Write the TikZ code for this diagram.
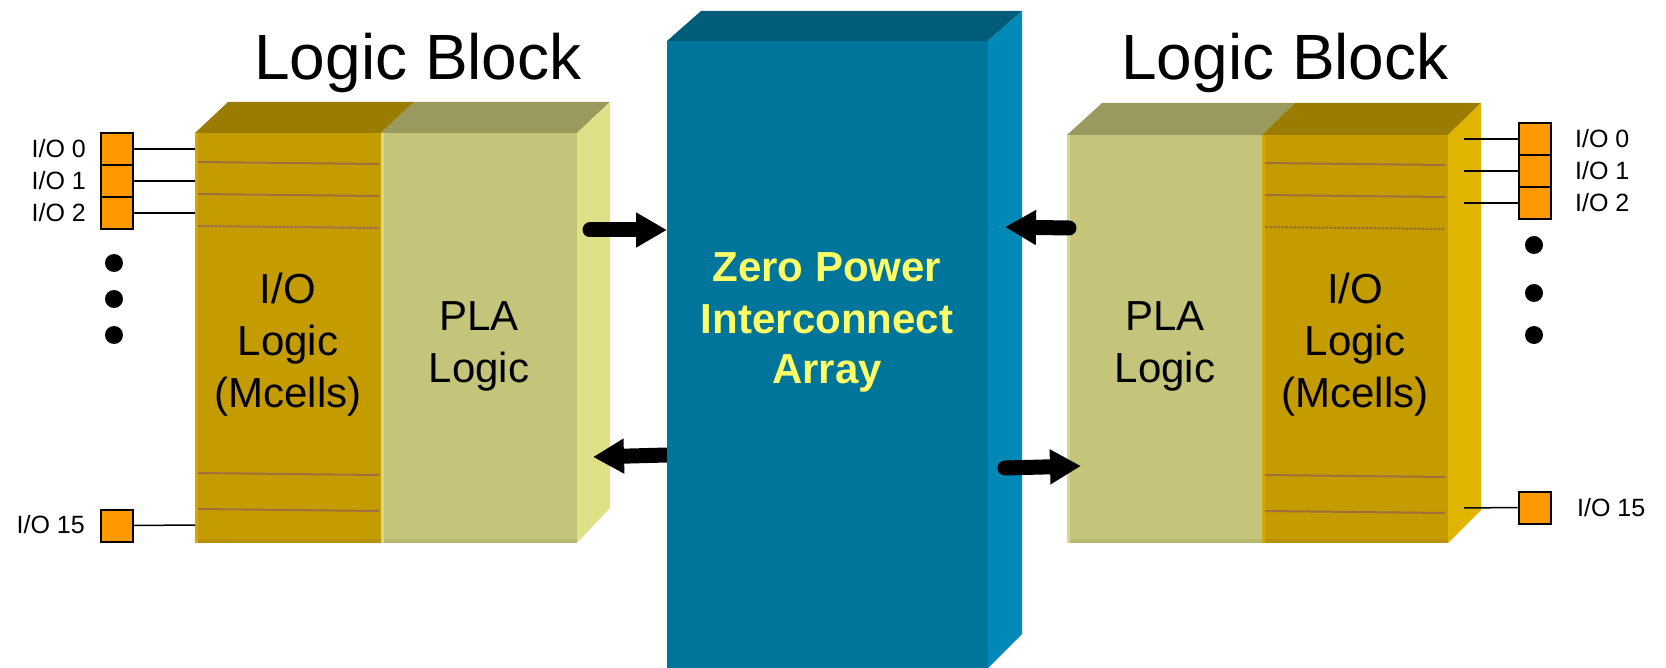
\documentclass[tikz,border=0pt]{standalone}
\usepackage{fontspec}
\setmainfont{Liberation Sans}
\usetikzlibrary{arrows.meta}
\definecolor{ioFront}{HTML}{C49C00}
\definecolor{ioTop}{HTML}{9A7C00}
\definecolor{ioBot}{HTML}{B89200}
\definecolor{ioEdge}{HTML}{D2A800}
\definecolor{plaFront}{HTML}{C4C47A}
\definecolor{plaTop}{HTML}{9A9A5E}
\definecolor{plaBot}{HTML}{B8B872}
\definecolor{plaEdge}{HTML}{D6D68C}
\definecolor{sideL}{HTML}{E0E088}
\definecolor{sideR}{HTML}{E0B400}
\definecolor{rowLine}{HTML}{A0703A}
\definecolor{tealFront}{HTML}{00759B}
\definecolor{tealTop}{HTML}{005C78}
\definecolor{tealSide}{HTML}{0088B6}
\definecolor{ioOrange}{HTML}{FF9900}
\definecolor{zpYellow}{HTML}{FFFF66}
\begin{document}
\begin{tikzpicture}[x=1pt,y=-1pt,
  iosq/.style={draw=black, line width=2pt, fill=ioOrange, minimum width=32pt, minimum height=32pt, inner sep=0pt},
  iolabel/.style={font=\fontsize{25}{30}\selectfont, inner sep=0pt},
  wire/.style={line width=1.5pt, black},
  dotnode/.style={circle, fill=black, minimum size=18pt, inner sep=0pt},
  rowsep/.style={line width=2pt, rowLine},
  title/.style={font=\fontsize{64}{70}\selectfont, inner sep=0pt, anchor=base},
  blocktext/.style={font=\fontsize{42}{52}\selectfont, align=center, inner sep=0pt, anchor=base},
  zptext/.style={font=\fontsize{42}{51}\selectfont\bfseries, text=zpYellow, align=center, inner sep=0pt, anchor=base},
  bigarrow/.style={line width=15pt, line cap=round, -{Triangle[length=31pt,width=33pt]}}]
\useasboundingbox (0,0) rectangle (1666,668);

% ---------- left logic block ----------
\fill[ioFront] (195,133) rectangle (381,543);
\fill[plaFront] (381,133) rectangle (577,543);
\fill[ioTop] (195,133) -- (228,102) -- (414,102) -- (381,133) -- cycle;
\fill[plaTop] (381,133) -- (414,102) -- (610,102) -- (577,133) -- cycle;
\fill[sideL] (577,133) -- (610,102) -- (610,508) -- (577,543) -- cycle;
\fill[ioBot] (195,539) rectangle (381,543);
\fill[plaBot] (381,539) rectangle (577,543);
\fill[ioEdge] (195,133) rectangle (198,543);
\fill[plaEdge] (381,133) rectangle (384,543);
\draw[rowsep] (198,162) -- (379,164);
\draw[rowsep] (198,194) -- (379,196);
\draw[rowsep, dashed, dash pattern=on 3pt off 1pt] (198,226) -- (379,228);
\draw[rowsep] (198,473) -- (379,475);
\draw[rowsep] (198,509) -- (379,511);
\coordinate (lio0) at (195,149);
\coordinate (lio1) at (195,181);
\coordinate (lio2) at (195,213);
\coordinate (lio15) at (195,525);

% ---------- right logic block ----------
\fill[plaFront] (1067,135) rectangle (1262,543);
\fill[ioFront] (1262,135) rectangle (1448,543);
\fill[plaTop] (1067,135) -- (1102,103) -- (1295,103) -- (1262,135) -- cycle;
\fill[ioTop] (1262,135) -- (1295,103) -- (1481,103) -- (1448,135) -- cycle;
\fill[sideR] (1448,135) -- (1481,103) -- (1481,510) -- (1448,543) -- cycle;
\fill[plaBot] (1067,539) rectangle (1262,543);
\fill[ioBot] (1262,539) rectangle (1448,543);
\fill[plaEdge] (1067,135) rectangle (1070,543);
\fill[ioEdge] (1262,135) rectangle (1265,543);
\draw[rowsep] (1265,163) -- (1445,165);
\draw[rowsep] (1265,195) -- (1445,197);
\draw[rowsep, dashed, dash pattern=on 3pt off 1pt] (1265,227) -- (1445,229);
\draw[rowsep] (1265,475) -- (1445,477);
\draw[rowsep] (1265,511) -- (1445,513);
\coordinate (rio0) at (1464,139);
\coordinate (rio1) at (1464,171);
\coordinate (rio2) at (1464,203);
\coordinate (rio15) at (1464,508);

% ---------- arrow hidden behind interconnect ----------
\coordinate (zpL2) at (667,455);
\coordinate (plaL2) at (593,457);
\draw[bigarrow] (zpL2) -- (plaL2);

% ---------- zero power interconnect array ----------
\fill[tealFront] (667,41) rectangle (988,672);
\fill[tealTop] (667,41) -- (701,11) -- (1022,11) -- (988,41) -- cycle;
\fill[tealSide] (988,41) -- (1022,11) -- (1022,634) -- (988,668) -- (988,672) -- cycle;
\node[zptext] (zp) at (827,384) {Zero Power\\Interconnect\\Array};

% ---------- arrows ----------
\coordinate (plaL1) at (590,230);
\coordinate (zpL1) at (667,230);
\draw[bigarrow] (plaL1) -- (zpL1);
\coordinate (plaR1) at (1069,228);
\coordinate (zpR1) at (1005,227);
\draw[bigarrow] (plaR1) -- (zpR1);
\coordinate (zpR2) at (1005,468);
\coordinate (plaR2) at (1081,466);
\draw[bigarrow] (zpR2) -- (plaR2);

% ---------- titles and block texts ----------
\node[title] (ltitle) at (418,80) {Logic Block};
\node[title] (rtitle) at (1285,80) {Logic Block};
\node[blocktext] (liotext) at (288,407) {I/O\\Logic\\(Mcells)};
\node[blocktext] (lplatext) at (479,383) {PLA\\Logic};
\node[blocktext] (rplatext) at (1165,383) {PLA\\Logic};
\node[blocktext] (riotext) at (1355,407) {I/O\\Logic\\(Mcells)};

% ---------- left I/O pins ----------
\node[iosq] (lsq0) at (116.5,149) {};
\node[iosq] (lsq1) at (116.5,181) {};
\node[iosq] (lsq2) at (116.5,213) {};
\node[iosq] (lsq15) at (116.5,525.5) {};
\draw[wire] (lsq0.east) -- (lio0);
\draw[wire] (lsq1.east) -- (lio1);
\draw[wire] (lsq2.east) -- (lio2);
\draw[wire] (lsq15.east) -- (lio15);
\node[iolabel, anchor=east] (lab0) at (86,149) {I/O 0};
\node[iolabel, anchor=east] (lab1) at (86,181) {I/O 1};
\node[iolabel, anchor=east] (lab2) at (86,213) {I/O 2};
\node[iolabel, anchor=east] (lab15) at (85,525) {I/O 15};
\node[dotnode] (ld1) at (114,263) {};
\node[dotnode] (ld2) at (114,299) {};
\node[dotnode] (ld3) at (114,335) {};

% ---------- right I/O pins ----------
\node[iosq] (rsq0) at (1534.5,139) {};
\node[iosq] (rsq1) at (1534.5,171) {};
\node[iosq] (rsq2) at (1534.5,203) {};
\node[iosq] (rsq15) at (1534.5,507.5) {};
\draw[wire] (rsq0.west) -- (rio0);
\draw[wire] (rsq1.west) -- (rio1);
\draw[wire] (rsq2.west) -- (rio2);
\draw[wire] (rsq15.west) -- (rio15);
\node[iolabel, anchor=west] (rlab0) at (1575,139) {I/O 0};
\node[iolabel, anchor=west] (rlab1) at (1575,171) {I/O 1};
\node[iolabel, anchor=west] (rlab2) at (1575,203) {I/O 2};
\node[iolabel, anchor=west] (rlab15) at (1577,508) {I/O 15};
\node[dotnode] (rd1) at (1534,245) {};
\node[dotnode] (rd2) at (1534,293) {};
\node[dotnode] (rd3) at (1534,335) {};
\end{tikzpicture}
\end{document}
